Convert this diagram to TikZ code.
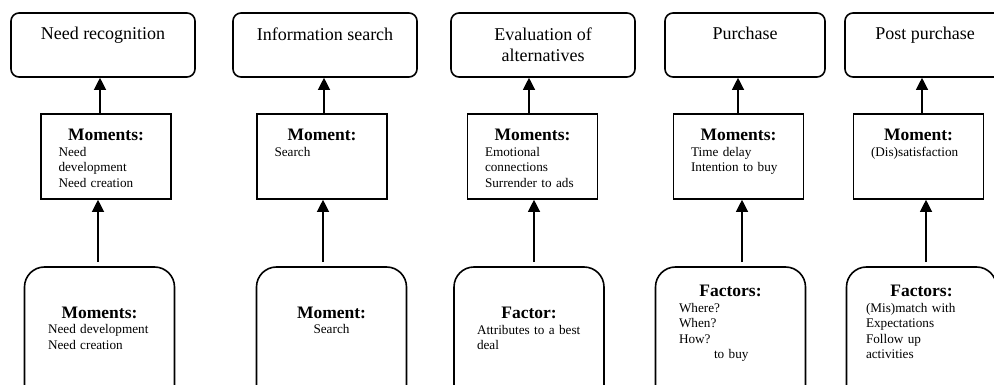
\documentclass[tikz,border=0pt]{standalone}
\usepackage{fontspec}
\setmainfont{Liberation Serif}
\usetikzlibrary{arrows.meta, positioning}
\setlength{\parindent}{0pt}

\newcommand{\headfont}{\fontsize{17.5}{19}\selectfont\bfseries}

\begin{document}
\begin{tikzpicture}[x=1pt, y=-1pt,
    stagebox/.style={draw, rounded corners=8pt, line width=1.6pt, minimum width=184pt, minimum height=64pt, inner sep=0pt},
    momentbox/.style={draw, rectangle, line width=1.6pt, minimum width=130pt, minimum height=85pt, inner sep=0pt},
    factorbox/.style={draw, rounded corners=20pt, line width=1.6pt, minimum width=150pt, minimum height=150pt, inner sep=0pt},
    stagetxt/.style={inner sep=0pt, align=center, font=\fontsize{18}{21}\selectfont},
    bodytxt/.style={inner sep=0pt, text width=#1, align=left, font=\fontsize{13.2}{15.5}\selectfont},
    arr/.style={-{Triangle[width=12pt,length=12pt]}, line width=1.2pt}]

    \useasboundingbox (0,0) rectangle (994,385);
    \clip (0,0) rectangle (994,385);

    % stages
    \node[stagebox] (t1) at (103,45) {};
    \node[stagebox] (t2) at (325,45) {};
    \node[stagebox] (t3) at (543,45) {};
    \node[stagebox, minimum width=160pt] (t4) at (745,45) {};
    \node[stagebox, minimum width=160pt] (t5) at (925,45) {};

    \node[stagetxt, below=15pt of t1.north] (t1txt) {Need recognition};
    \node[stagetxt, below=15pt of t2.north] (t2txt) {Information search};
    \node[stagetxt, below=15pt of t3.north] (t3txt) {Evaluation of\\alternatives};
    \node[stagetxt, below=15pt of t4.north] (t4txt) {Purchase};
    \node[stagetxt, below=15pt of t5.north] (t5txt) {Post purchase};

    % moments
    \node[momentbox] (m1) at (106,156.5) {};
    \node[momentbox] (m2) at (322,156.5) {};
    \node[momentbox] (m3) at (532.5,156.5) {};
    \node[momentbox] (m4) at (738.5,156.5) {};
    \node[momentbox] (m5) at (918.5,156.5) {};

    \node[bodytxt=95pt, below=16pt of m1.north] (m1txt) {{\centering\headfont Moments:\par}Need\\development\\Need creation};
    \node[bodytxt=95pt, below=16pt of m2.north] (m2txt) {{\centering\headfont Moment:\par}Search};
    \node[bodytxt=95pt, below=16pt of m3.north] (m3txt) {{\centering\headfont Moments:\par}Emotional\\connections\\Surrender to ads};
    \node[bodytxt=95pt, below=16pt of m4.north] (m4txt) {{\centering\headfont Moments:\par}Time delay\\Intention to buy};
    \node[bodytxt=95pt, below=16pt of m5.north] (m5txt) {{\centering\headfont Moment:\par}(Dis)satisfaction};

    % factors
    \node[factorbox] (b1) at (99.5,342) {};
    \node[factorbox] (b2) at (331.5,342) {};
    \node[factorbox] (b3) at (529,342) {};
    \node[factorbox] (b4) at (730.5,342) {};
    \node[factorbox] (b5) at (921.5,342) {};

    \node[bodytxt=103pt, below=40.5pt of b1.north] (b1txt) {{\centering\headfont Moments:\par}Need development\\Need creation};
    \node[bodytxt=103pt, align=center, below=40.5pt of b2.north] (b2txt) {{\headfont Moment:\par}Search};
    \node[bodytxt=104pt, below=41pt of b3.north] (b3txt) {{\centering\headfont Factor:\par}Attributes to a best\\deal};
    \node[bodytxt=103pt, below=19pt of b4.north] (b4txt) {{\centering\headfont Factors:\par}Where?\\When?\\How?\\\hspace*{35pt}to buy};
    \node[bodytxt=111pt, below=19pt of b5.north] (b5txt) {{\centering\headfont Factors:\par}(Mis)match with\\Expectations\\Follow up\\activities};

    % moments to stages
    \draw[arr] ([xshift=-6pt]m1.north) -- ([xshift=-6pt]m1.north |- t1.south);
    \draw[arr] ([xshift=2pt]m2.north) -- ([xshift=2pt]m2.north |- t2.south);
    \draw[arr] ([xshift=-3.5pt]m3.north) -- ([xshift=-3.5pt]m3.north |- t3.south);
    \draw[arr] ([xshift=-0.5pt]m4.north) -- ([xshift=-0.5pt]m4.north |- t4.south);
    \draw[arr] ([xshift=3.5pt]m5.north) -- ([xshift=3.5pt]m5.north |- t5.south);

    % factors to moments
    \draw[arr, shorten <=4pt] ([xshift=-8pt]m1.south |- b1.north) -- ([xshift=-8pt]m1.south);
    \draw[arr, shorten <=4pt] ([xshift=1pt]m2.south |- b2.north) -- ([xshift=1pt]m2.south);
    \draw[arr, shorten <=4pt] ([xshift=1.5pt]m3.south |- b3.north) -- ([xshift=1.5pt]m3.south);
    \draw[arr, shorten <=4pt] ([xshift=3.5pt]m4.south |- b4.north) -- ([xshift=3.5pt]m4.south);
    \draw[arr, shorten <=4pt] ([xshift=7.5pt]m5.south |- b5.north) -- ([xshift=7.5pt]m5.south);
\end{tikzpicture}
\end{document}
